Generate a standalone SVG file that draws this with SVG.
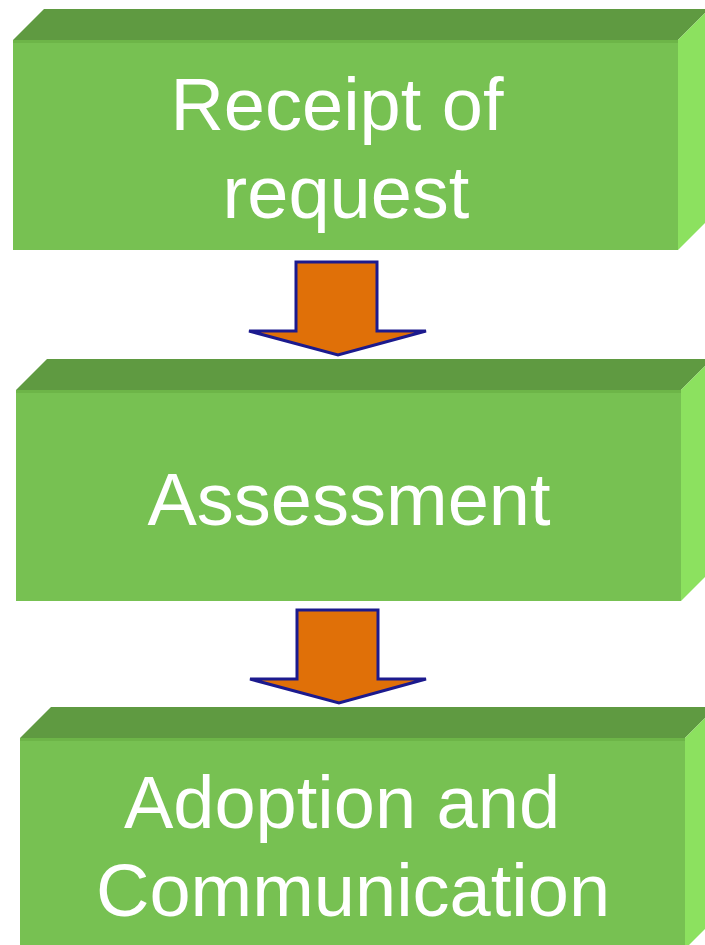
<svg xmlns="http://www.w3.org/2000/svg" width="705" height="945" viewBox="0 0 705 945">
<style>
.front{fill:#77C152}
.top{fill:#5F9A41}
.side{fill:#8CE15F}
.edge{fill:#6DB548}
.arrow{fill:#E07008;stroke:#1C1A8E;stroke-width:3;stroke-linejoin:miter}
.lbl{font-family:"Liberation Sans",Arial,sans-serif;font-size:74px;fill:#FFFFFF;text-anchor:middle}
</style>
<rect width="705" height="945" fill="#FFFFFF"/>
<g id="node1">
<polygon class="top" points="13,40 44,9 709,9 678,40"/>
<polygon class="side" points="678,40 709,9 709,219 678,250"/>
<rect class="front" x="13" y="40" width="665" height="210"/>
<rect class="edge" x="13" y="40" width="665" height="3"/>
<text class="lbl" x="337" y="130">Receipt of</text>
<text class="lbl" x="346" y="218">request</text>
</g>
<g id="node2">
<polygon class="top" points="16,390 47,359 712,359 681,390"/>
<polygon class="side" points="681,390 712,359 712,570 681,601"/>
<rect class="front" x="16" y="390" width="665" height="211"/>
<rect class="edge" x="16" y="390" width="665" height="3"/>
<text class="lbl" x="349" y="525">Assessment</text>
</g>
<g id="node3">
<polygon class="top" points="20,738 51,707 716,707 685,738"/>
<polygon class="side" points="685,738 716,707 716,918 685,949"/>
<rect class="front" x="20" y="738" width="665" height="211"/>
<rect class="edge" x="20" y="738" width="665" height="3"/>
<text class="lbl" x="342" y="828">Adoption and</text>
<text class="lbl" x="353" y="916">Communication</text>
</g>
<g id="connectors">
<polygon class="arrow" points="296,262 377,262 377,331 426,331 338,355 249,331 296,331"/>
<polygon class="arrow" points="297,610 378,610 378,679 426,679 339,703 250,679 297,679"/>
</g>
</svg>
